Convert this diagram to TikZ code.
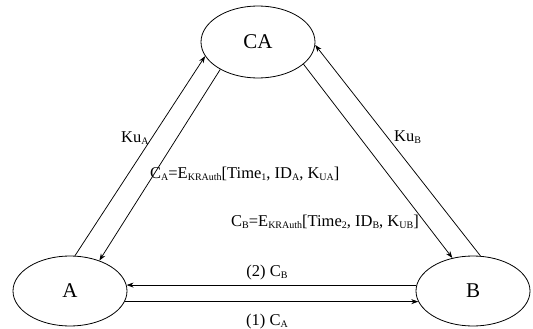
\documentclass[tikz,border=0pt]{standalone}
\usepackage{fontspec}
\setmainfont{Liberation Serif}
\usetikzlibrary{arrows.meta,shapes.geometric}
\newcommand{\lo}[1]{\raisebox{-0.25ex}{\fontsize{10}{10}\selectfont #1}}
\tikzset{
  ent/.style={draw, ellipse, line width=0.8pt, inner sep=0pt, minimum width=114pt, minimum height=70pt, font=\fontsize{21}{21}\selectfont},
  conn/.style={line width=0.75pt, -{Stealth[length=7pt,width=5pt]}},
  lbl/.style={inner sep=0pt, font=\fontsize{16.5}{16.5}\selectfont}
}
\begin{document}
\begin{tikzpicture}[x=1pt,y=-1pt]
\useasboundingbox (0,0) rectangle (533,329);
\node[ent, minimum height=72pt] (CA) at (258,42) {CA};
\node[ent] (A) at (70,291) {A};
\node[ent] (B) at (473,291) {B};
% A <-> CA
\draw[conn] (A.82) -- (CA.195);
\draw[conn] (CA.216) -- (A.46);
% B <-> CA
\draw[conn] (CA.334) -- (B.122);
\draw[conn] (B.78) -- (CA.357);
% A <-> B
\draw[conn] (B.174) -- (A.6);
\draw[conn] (A.-11) -- (B.191);
% labels
\node[lbl, anchor=west] (kua) at (121,138) {Ku\lo{A}};
\node[lbl, anchor=west] (kub) at (394,137) {Ku\lo{B}};
\node[lbl, anchor=west] (ca) at (150,174) {C\lo{A}=E\lo{KRAuth}[Time\lo{1}, ID\lo{A}, K\lo{UA}]};
\node[lbl, anchor=west] (cb) at (231,222) {C\lo{B}=E\lo{KRAuth}[Time\lo{2}, ID\lo{B}, K\lo{UB}]};
\node[lbl] (m2) at (267,273) {(2) C\lo{B}};
\node[lbl] (m1) at (267,322) {(1) C\lo{A}};
\end{tikzpicture}
\end{document}
